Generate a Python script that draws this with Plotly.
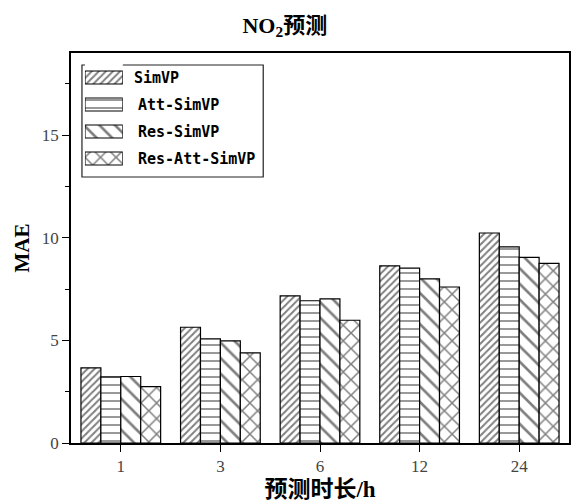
import plotly.graph_objects as go

# Forecast horizons (hours) and MAE of each model
horizons = ["1", "3", "6", "12", "24"]
models = ["SimVP", "Att-SimVP", "Res-SimVP", "Res-Att-SimVP"]
mae_simvp = [3.66, 5.64, 7.17, 8.63, 10.23]
mae_att_simvp = [3.22, 5.07, 6.93, 8.52, 9.55]
mae_res_simvp = [3.24, 4.98, 7.02, 8.00, 9.04]
mae_res_att_simvp = [2.75, 4.39, 5.98, 7.60, 8.75]

series = [mae_simvp, mae_att_simvp, mae_res_simvp, mae_res_att_simvp]
hatch = ["/", "-", "\\", "x"]
hatch_size = [5, 8, 11, 11]
hatch_solid = [0.4, 0.2, 0.24, 0.26]

W, H = 572, 503
ML, MR, MT, MB = 71, 1, 53, 60
PW, PH = W - ML - MR, H - MT - MB


def px_x(p):
    return (p - ML) / PW


def px_y(p):
    return (H - MB - p) / PH


serif = "Liberation Serif, Noto Sans CJK SC"
mono = "DejaVu Sans Mono, Liberation Mono"

fig = go.Figure()
for name, vals, shp, sz, so in zip(models, series, hatch, hatch_size, hatch_solid):
    fig.add_trace(go.Bar(
        x=horizons, y=vals, name=name, showlegend=False,
        marker=dict(color="white",
                    line=dict(color="black", width=1.2),
                    pattern=dict(shape=shp, size=sz, solidity=so,
                                 fgcolor="black", bgcolor="white",
                                 fillmode="overlay")),
    ))

# Legend swatches as patterned horizontal bars on a small inset axis
fig.add_trace(go.Bar(
    y=models, x=[1] * len(models), orientation="h", width=0.48,
    xaxis="x2", yaxis="y2", showlegend=False, hoverinfo="skip",
    marker=dict(color="white",
                line=dict(color="black", width=1.2),
                pattern=dict(shape=hatch, size=hatch_size, solidity=hatch_solid,
                             fgcolor="black", bgcolor="white",
                             fillmode="overlay")),
))

annotations = []
for i, name in enumerate(models):
    annotations.append(dict(
        x=px_x(132 if i == 0 else 136), xref="paper", xanchor="left",
        y=name, yref="y2", yanchor="middle",
        text="<b>%s</b>" % name, showarrow=False,
        font=dict(family=mono, size=15, color="black"),
    ))

fig.update_layout(
    width=W, height=H,
    margin=dict(l=ML, r=MR, t=MT, b=MB),
    paper_bgcolor="white", plot_bgcolor="white",
    barmode="group", bargap=0.2, bargroupgap=0,
    title=dict(text="<b>NO<sub>2</sub>预测</b>", x=px_x(320), xanchor="center",
               y=1 - 25 / H, yanchor="middle",
               font=dict(family=serif, size=22, color="black")),
    xaxis=dict(
        type="category", range=[-0.5, 4.5],
        showline=True, linecolor="black", linewidth=1.6, mirror=True,
        ticks="outside", ticklen=7, tickwidth=1.2, tickcolor="black",
        tickfont=dict(family=serif, size=17, color="#444"),
        showgrid=False, zeroline=False,
        title=dict(text="<b>预测时长/h</b>", standoff=6,
                   font=dict(family=serif, size=23, color="black")),
    ),
    yaxis=dict(
        range=[0, 19], tickvals=[0, 5, 10, 15],
        showline=True, linecolor="black", linewidth=1.6, mirror=True,
        ticks="outside", ticklen=7, tickwidth=1.2, tickcolor="black",
        minor=dict(tickvals=[2.5, 7.5, 12.5, 17.5], ticks="outside",
                   ticklen=4, tickwidth=1.2, tickcolor="black"),
        tickfont=dict(family=serif, size=17, color="#444"),
        showgrid=False, zeroline=False,
        title=dict(text="<b>MAE</b>", standoff=6,
                   font=dict(family=serif, size=21, color="black")),
    ),
    xaxis2=dict(domain=[px_x(85), px_x(123)], range=[0, 1], anchor="y2",
                visible=False, fixedrange=True),
    yaxis2=dict(domain=[px_y(172), px_y(64)], anchor="x2", type="category",
                autorange="reversed", visible=False, fixedrange=True),
    shapes=[dict(type="rect", xref="paper", yref="paper",
                 x0=px_x(82), x1=px_x(264), y0=px_y(177), y1=px_y(65),
                 line=dict(color="#222", width=1.2), fillcolor="rgba(0,0,0,0)",
                 layer="below")],
    annotations=annotations,
)

fig.write_html("out.html")
